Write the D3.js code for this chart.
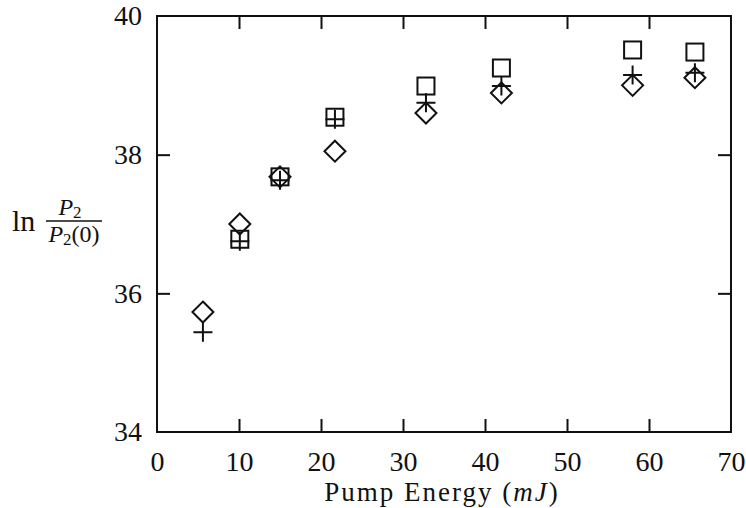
<!DOCTYPE html>
<html>
<head>
<meta charset="utf-8">
<script src="https://cdn.jsdelivr.net/npm/d3@7"></script>
<style>
  body { margin: 0; background: #fff; }
  svg text { fill: #111; }
</style>
</head>
<body>
<div id="chart"></div>
<script>
// Data
var energy = [5.6, 10.1, 15.0, 21.7, 32.8, 42.0, 58.0, 65.6];
var squareVals = [null, 36.78, 37.68, 38.54, 38.99, 39.25, 39.51, 39.48];
var plusVals = [35.44, 36.75, 37.63, 38.51, 38.75, 38.99, 39.15, 39.18];
var diamondVals = [35.73, 37.0, 37.68, 38.05, 38.6, 38.89, 39.0, 39.11];
var xTicks = [0, 10, 20, 30, 40, 50, 60, 70];
var yTicks = [34, 36, 38, 40];

// Canvas
var W = 746, H = 508;
var margin = { top: 16, right: 15, bottom: 76, left: 157 };
var width = W - margin.left - margin.right;
var height = H - margin.top - margin.bottom;
var serif = "Times New Roman, Liberation Serif, DejaVu Serif, serif";

var svg = d3.select("#chart").append("svg")
    .attr("width", W)
    .attr("height", H);

var g = svg.append("g")
    .attr("transform", "translate(" + margin.left + "," + margin.top + ")");

var x = d3.scaleLinear().domain([0, 70]).range([0, width]);
var y = d3.scaleLinear().domain([34, 40]).range([height, 0]);

// inward ticks on all four sides
var tickLen = 13;
function styleAxis(sel) {
    sel.attr("font-family", null);
    sel.select(".domain").remove();
    sel.selectAll(".tick line").attr("stroke", "#111").attr("stroke-width", 2);
    sel.selectAll("text").attr("fill", "#111")
        .style("font-family", serif)
        .style("font-size", "28px");
}

var innerX = xTicks.slice(1, -1);
var innerY = yTicks.slice(1, -1);

g.append("g")
    .attr("transform", "translate(0," + height + ")")
    .call(d3.axisBottom(x).tickValues(xTicks).tickSize(0).tickFormat(d3.format("d")))
    .call(styleAxis)
    .call(function(s) { s.selectAll("text").attr("y", 39).attr("dy", 0); });

g.append("g")
    .attr("transform", "translate(0," + height + ")")
    .call(d3.axisTop(x).tickValues(innerX).tickSize(tickLen).tickFormat(""))
    .call(styleAxis);

g.append("g")
    .call(d3.axisBottom(x).tickValues(innerX).tickSize(tickLen).tickFormat(""))
    .call(styleAxis);

g.append("g")
    .call(d3.axisLeft(y).tickValues(yTicks).tickSize(0).tickPadding(15).tickFormat(d3.format("d")))
    .call(styleAxis);

g.append("g")
    .call(d3.axisRight(y).tickValues(innerY).tickSize(tickLen).tickFormat(""))
    .call(styleAxis);

g.append("g")
    .attr("transform", "translate(" + width + ",0)")
    .call(d3.axisLeft(y).tickValues(innerY).tickSize(tickLen).tickFormat(""))
    .call(styleAxis);

// frame
g.append("rect")
    .attr("width", width)
    .attr("height", height)
    .attr("fill", "none")
    .attr("stroke", "#111")
    .attr("stroke-width", 2);

// markers
function pts(vals) {
    return energy.map(function(e, i) { return { x: e, y: vals[i] }; })
        .filter(function(d) { return d.y != null; });
}

var mk = g.append("g").attr("fill", "none").attr("stroke", "#111").attr("stroke-width", 2);

var sq = 8.5;
mk.selectAll(".sq").data(pts(squareVals)).enter().append("rect")
    .attr("x", function(d) { return x(d.x) - sq; })
    .attr("y", function(d) { return y(d.y) - sq; })
    .attr("width", sq * 2)
    .attr("height", sq * 2);

var dm = 10.5;
mk.selectAll(".dm").data(pts(diamondVals)).enter().append("path")
    .attr("d", function(d) {
        var cx = x(d.x), cy = y(d.y);
        return "M" + cx + "," + (cy - dm) + "L" + (cx + dm) + "," + cy +
            "L" + cx + "," + (cy + dm) + "L" + (cx - dm) + "," + cy + "Z";
    });

var pl = 9.5;
mk.selectAll(".pl").data(pts(plusVals)).enter().append("path")
    .attr("d", function(d) {
        var cx = x(d.x), cy = y(d.y);
        return "M" + (cx - pl) + "," + cy + "H" + (cx + pl) +
            "M" + cx + "," + (cy - pl) + "V" + (cy + pl);
    });

// x label
var xl = svg.append("text")
    .attr("x", 442)
    .attr("y", 501)
    .attr("text-anchor", "middle")
    .style("font-family", serif)
    .style("font-size", "27px")
    .style("letter-spacing", "2px");
xl.append("tspan").text("Pump Energy (");
xl.append("tspan").style("font-style", "italic").text("mJ");
xl.append("tspan").text(")");

// y label: ln P2 / P2(0)
svg.append("text")
    .attr("x", 12)
    .attr("y", 231)
    .style("font-family", serif)
    .style("font-size", "30px")
    .text("ln");

var num = svg.append("text")
    .attr("x", 70)
    .attr("y", 215)
    .attr("text-anchor", "middle")
    .style("font-family", serif)
    .style("font-size", "24px");
num.append("tspan").style("font-style", "italic").text("P");
num.append("tspan").attr("dy", 3).style("font-size", "17px").text("2");

svg.append("line")
    .attr("x1", 46).attr("x2", 102)
    .attr("y1", 221).attr("y2", 221)
    .attr("stroke", "#111")
    .attr("stroke-width", 1.5);

var den = svg.append("text")
    .attr("x", 74)
    .attr("y", 242)
    .attr("text-anchor", "middle")
    .style("font-family", serif)
    .style("font-size", "24px");
den.append("tspan").style("font-style", "italic").text("P");
den.append("tspan").attr("dy", 3).style("font-size", "17px").text("2");
den.append("tspan").attr("dy", -3).text("(0)");
</script>
</body>
</html>
